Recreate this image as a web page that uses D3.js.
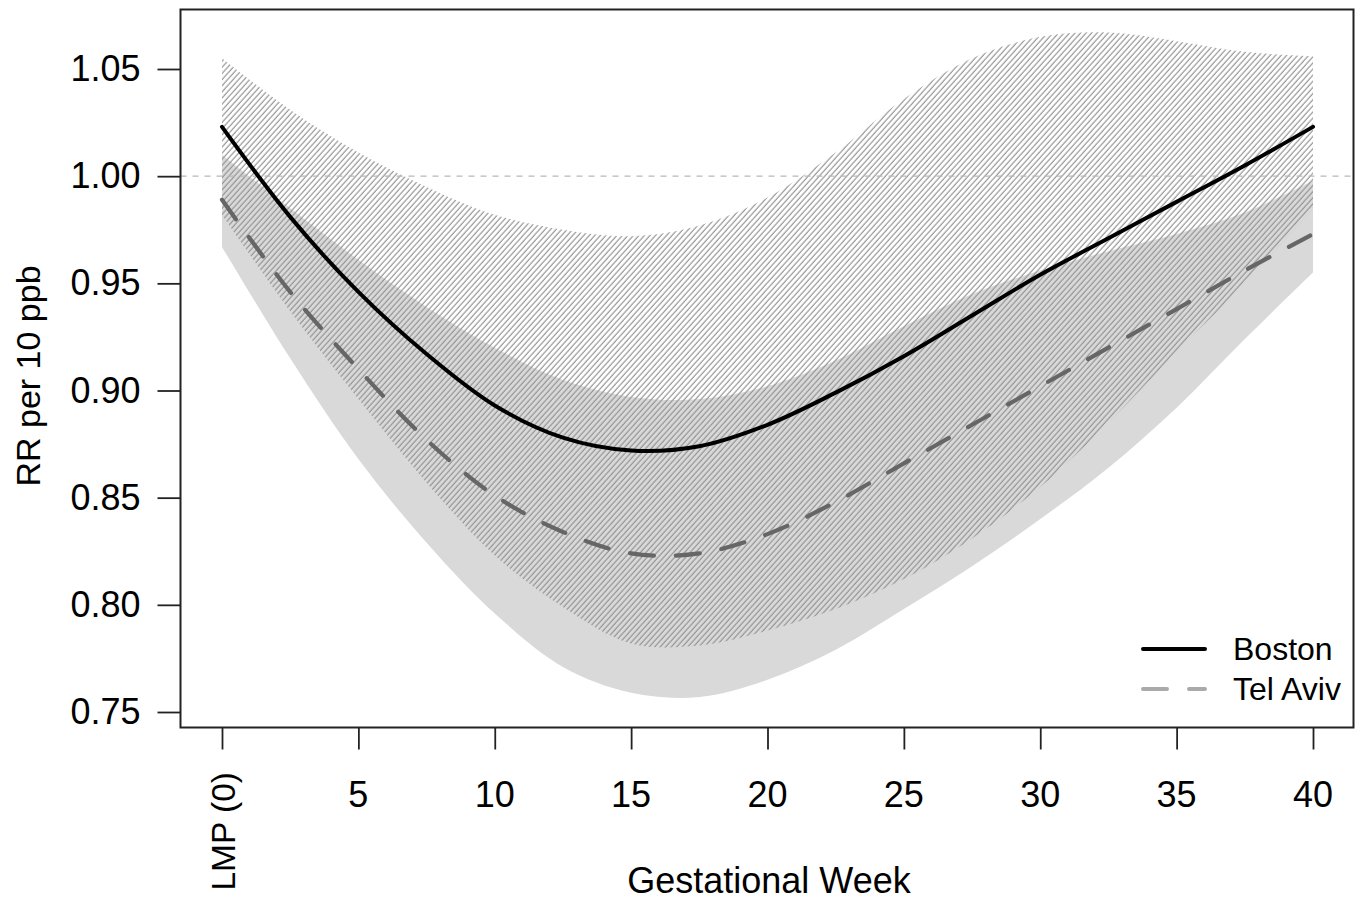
<!DOCTYPE html>
<html>
<head>
<meta charset="utf-8">
<script src="https://cdn.jsdelivr.net/npm/d3@7"></script>
<style>
  body { margin: 0; background: #fff; }
  text { font-family: "Liberation Sans", Arial, sans-serif; fill: #000; }
</style>
</head>
<body>
<div class="chart"></div>
<script>
// values, every 2.5 weeks
const weeks = [0, 2.5, 5, 7.5, 10, 12.5, 15, 17.5, 20, 22.5, 25, 27.5, 30, 32.5, 35, 37.5, 40]

const bostonRR    = [1.023, 0.981, 0.946, 0.917, 0.893, 0.878, 0.872, 0.874, 0.884, 0.899, 0.916, 0.935, 0.954, 0.971, 0.988, 1.005, 1.023]
const bostonLower = [0.982, 0.937, 0.896, 0.857, 0.823, 0.799, 0.782, 0.781, 0.788, 0.798, 0.812, 0.831, 0.855, 0.885, 0.918, 0.950, 0.985]
const bostonUpper = [1.055, 1.031, 1.011, 0.995, 0.982, 0.975, 0.972, 0.977, 0.990, 1.011, 1.036, 1.055, 1.065, 1.067, 1.063, 1.058, 1.056]

const telAvivRR    = [0.989, 0.946, 0.910, 0.877, 0.851, 0.834, 0.824, 0.824, 0.833, 0.848, 0.866, 0.884, 0.902, 0.920, 0.938, 0.956, 0.973]
const telAvivLower = [0.967, 0.915, 0.868, 0.829, 0.796, 0.771, 0.759, 0.757, 0.765, 0.779, 0.798, 0.818, 0.840, 0.864, 0.892, 0.924, 0.955]
const telAvivUpper = [1.010, 0.985, 0.961, 0.939, 0.920, 0.905, 0.897, 0.896, 0.902, 0.914, 0.930, 0.945, 0.956, 0.965, 0.973, 0.983, 0.998]

const xTicks = [0, 5, 10, 15, 20, 25, 30, 35, 40]
const xTickLabels = ['LMP (0)', '5', '10', '15', '20', '25', '30', '35', '40']
const yTicks = [0.75, 0.80, 0.85, 0.90, 0.95, 1.00, 1.05]

const seriesNames = ['Boston', 'Tel Aviv']

const W = 1365, H = 904
const box = {left: 180.5, top: 9.5, right: 1353.5, bottom: 727.5}
const fs = 36

const svg = d3.select('.chart').append('svg')
  .attr('width', W).attr('height', H)

const x = d3.scaleLinear().domain([0, 40]).range([222, 1313])
const y = d3.scaleLinear().domain([0.75, 1.05]).range([712, 69])

const defs = svg.append('defs')
defs.append('clipPath').attr('id', 'plotclip')
  .append('rect')
  .attr('x', box.left).attr('y', box.top)
  .attr('width', box.right - box.left).attr('height', box.bottom - box.top)

const hatch = defs.append('pattern')
  .attr('id', 'hatch')
  .attr('patternUnits', 'userSpaceOnUse')
  .attr('width', 4.1).attr('height', 20)
  .attr('patternTransform', 'rotate(42)')
hatch.append('line')
  .attr('x1', 1).attr('x2', 1).attr('y1', 0).attr('y2', 20)
  .attr('stroke', '#8e8e8e').attr('stroke-width', 1.1)

const rows = weeks.map((w, i) => ({
  w,
  b: bostonRR[i], bl: bostonLower[i], bu: bostonUpper[i],
  t: telAvivRR[i], tl: telAvivLower[i], tu: telAvivUpper[i]
}))

const curve = d3.curveCatmullRom
const plot = svg.append('g').attr('clip-path', 'url(#plotclip)')

// Tel Aviv band: light grey
plot.append('path')
  .datum(rows)
  .attr('fill', '#d9d9d9')
  .attr('d', d3.area().curve(curve).x(d => x(d.w)).y0(d => y(d.tl)).y1(d => y(d.tu)))

// Boston band: hatched
plot.append('path')
  .datum(rows)
  .attr('fill', 'url(#hatch)')
  .attr('d', d3.area().curve(curve).x(d => x(d.w)).y0(d => y(d.bl)).y1(d => y(d.bu)))

// reference line at RR = 1
plot.append('line')
  .attr('x1', box.left).attr('x2', box.right)
  .attr('y1', y(1)).attr('y2', y(1))
  .attr('stroke', '#b8b8b8').attr('stroke-width', 1.2)
  .attr('stroke-dasharray', '6,6')

plot.append('path')
  .datum(rows)
  .attr('fill', 'none')
  .attr('stroke', '#666')
  .attr('stroke-width', 4.2)
  .attr('stroke-linecap', 'round')
  .attr('stroke-dasharray', '24,22')
  .attr('d', d3.line().curve(curve).x(d => x(d.w)).y(d => y(d.t)))

plot.append('path')
  .datum(rows)
  .attr('fill', 'none')
  .attr('stroke', '#000')
  .attr('stroke-width', 4)
  .attr('stroke-linecap', 'round')
  .attr('d', d3.line().curve(curve).x(d => x(d.w)).y(d => y(d.b)))

// frame
svg.append('rect')
  .attr('x', box.left).attr('y', box.top)
  .attr('width', box.right - box.left).attr('height', box.bottom - box.top)
  .attr('fill', 'none').attr('stroke', '#222').attr('stroke-width', 2)

// x axis
const xAxis = svg.append('g')
  .attr('transform', `translate(0,${box.bottom})`)
  .call(d3.axisBottom(x).tickValues(xTicks).tickSize(22).tickFormat(''))
xAxis.select('.domain').remove()
xAxis.selectAll('.tick line').attr('stroke', '#222').attr('stroke-width', 1.8)

xTicks.forEach((t, i) => {
  if (i === 0) {
    svg.append('text')
      .attr('transform', `translate(${x(t) + 1},772) rotate(-90)`)
      .attr('text-anchor', 'end')
      .attr('dy', '0.35em')
      .attr('font-size', 33.5)
      .text(xTickLabels[i])
  } else {
    svg.append('text')
      .attr('x', x(t)).attr('y', 807)
      .attr('text-anchor', 'middle')
      .attr('font-size', fs)
      .text(xTickLabels[i])
  }
})

// y axis
const yAxis = svg.append('g')
  .attr('transform', `translate(${box.left},0)`)
  .call(d3.axisLeft(y).tickValues(yTicks).tickSize(23).tickFormat(d3.format('.2f')).tickPadding(17))
yAxis.select('.domain').remove()
yAxis.selectAll('.tick line').attr('stroke', '#222').attr('stroke-width', 1.8)
yAxis.selectAll('.tick text')
  .attr('font-size', fs)
  .attr('font-family', '"Liberation Sans", Arial, sans-serif')
  .attr('fill', '#000')

// axis titles
svg.append('text')
  .attr('x', 769).attr('y', 893)
  .attr('text-anchor', 'middle')
  .attr('font-size', fs)
  .text('Gestational Week')

svg.append('text')
  .attr('transform', 'translate(40,376) rotate(-90)')
  .attr('text-anchor', 'middle')
  .attr('font-size', 34)
  .text('RR per 10 ppb')

// legend
const legend = svg.append('g')
legend.append('line')
  .attr('x1', 1143).attr('x2', 1205).attr('y1', 649).attr('y2', 649)
  .attr('stroke', '#000').attr('stroke-width', 4).attr('stroke-linecap', 'round')
legend.append('line')
  .attr('x1', 1143).attr('x2', 1205).attr('y1', 689).attr('y2', 689)
  .attr('stroke', '#aaa').attr('stroke-width', 4).attr('stroke-linecap', 'round')
  .attr('stroke-dasharray', '24,22')
seriesNames.forEach((name, i) => {
  legend.append('text')
    .attr('x', 1233).attr('y', 649 + i * 40)
    .attr('dy', '0.35em')
    .attr('font-size', 32)
    .text(name)
})
</script>
</body>
</html>
